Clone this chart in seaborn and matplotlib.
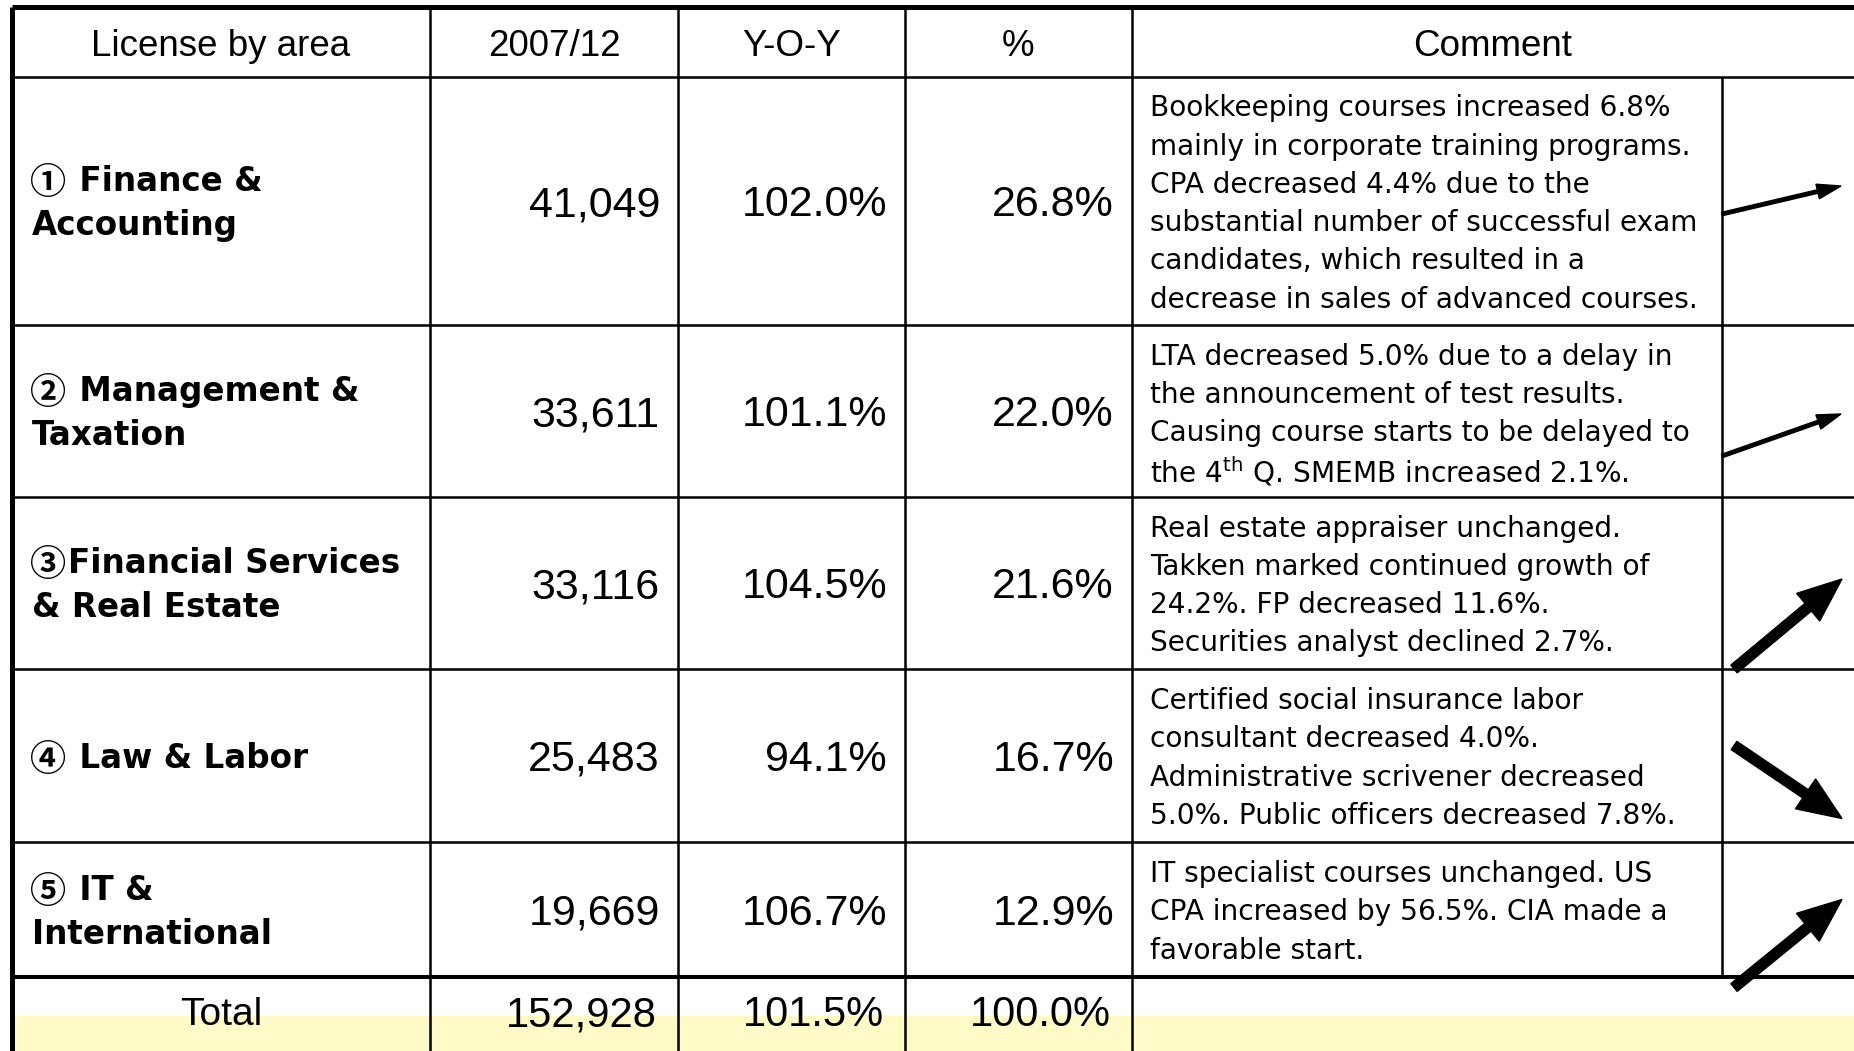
import matplotlib.pyplot as plt
import seaborn as sns

# ---- table data ----
header = ["License by area", "2007/12", "Y-O-Y", "%", "Comment"]
marks = ["①", "②", "③", "④", "⑤"]
areas = [
    [" Finance &", "Accounting"],
    [" Management &", "Taxation"],
    ["Financial Services", "& Real Estate"],
    [" Law & Labor"],
    [" IT &", "International"],
]
students = [41049, 33611, 33116, 25483, 19669]
yoy = [102.0, 101.1, 104.5, 94.1, 106.7]
share = [26.8, 22.0, 21.6, 16.7, 12.9]
total_label = "Total"
total_students = 152928
total_yoy = 101.5
total_share = 100.0
comments = [
    ["Bookkeeping courses increased 6.8%",
     "mainly in corporate training programs.",
     "CPA decreased 4.4% due to the",
     "substantial number of successful exam",
     "candidates, which resulted in a",
     "decrease in sales of advanced courses."],
    ["LTA decreased 5.0% due to a delay in",
     "the announcement of test results.",
     "Causing course starts to be delayed to",
     r"the 4$^{\mathrm{th}}$ Q. SMEMB increased 2.1%."],
    ["Real estate appraiser unchanged.",
     "Takken marked continued growth of",
     "24.2%. FP decreased 11.6%.",
     "Securities analyst declined 2.7%."],
    ["Certified social insurance labor",
     "consultant decreased 4.0%.",
     "Administrative scrivener decreased",
     "5.0%. Public officers decreased 7.8%."],
    ["IT specialist courses unchanged. US",
     "CPA increased by 56.5%. CIA made a",
     "favorable start."],
]
trend = ["slight", "slight", "strong", "strong", "strong"]

# ---- layout (pixels) ----
W, H = 1854, 1051
col_x = [12, 430, 678, 905, 1132, 1722]
row_y = [7, 77, 325, 497, 669, 842, 977]
band_top = 1016
# arrow tail/head y offsets relative to row middle
arrow_dy = [(13, -15), (45, 3), (86, -4), (-10, 63), (78, -10)]

sns.set_theme(style="white")
narrow = ["Liberation Sans Narrow", "Liberation Sans", "DejaVu Sans"]
plain = ["DejaVu Sans", "Noto Sans CJK JP"]
cjk = ["Noto Sans CJK JP", "DejaVu Sans"]

fig = plt.figure(figsize=(W / 100, H / 100), dpi=100)
ax = fig.add_axes([0, 0, 1, 1])
ax.set_xlim(0, W)
ax.set_ylim(H, 0)
ax.axis("off")

# yellow band under the total row
ax.axhspan(band_top, H, xmin=col_x[0] / W, xmax=1, color="#FFFAC8", zorder=0)

# grid lines
thin, thick = 1.8, 3.6
ax.hlines(row_y[0], col_x[0], W, color="black", lw=thick)
ax.hlines(row_y[1:6], col_x[0], W, color="black", lw=thin)
ax.hlines(row_y[6], col_x[0], W, color="black", lw=2.9)
ax.vlines(col_x[0], row_y[0], H, color="black", lw=thick)
ax.vlines(col_x[1:5], row_y[0], H, color="black", lw=thin)
ax.vlines(col_x[5], row_y[1], row_y[6], color="black", lw=thin)

# header
hy = (row_y[0] + row_y[1]) / 2
centers = [(col_x[i] + col_x[i + 1]) / 2 for i in range(4)] + [(col_x[4] + W) / 2]
for cx, h in zip(centers, header):
    ax.text(cx, hy, h, ha="center", va="center_baseline",
            fontsize=26.5, family=narrow, color="black")

pad = 18
num_size = 31
for i in range(5):
    top, bot = row_y[i + 1], row_y[i + 2]
    mid = (top + bot) / 2
    # area label: circled number + bold name
    lab = areas[i]
    for j, line in enumerate(lab):
        base = mid + (j - (len(lab) - 1) / 2) * 44 + 12
        x = 32
        if j == 0:
            ax.text(30, base + 3, marks[i], ha="left", va="baseline",
                    fontsize=26, fontweight="bold", family=cjk, color="black")
            x = 68
        ax.text(x, base, line, ha="left", va="baseline",
                fontsize=23.5, fontweight="bold", family=plain, color="black")
    ax.text(col_x[2] - pad, mid, f"{students[i]:,}", ha="right",
            va="center_baseline", fontsize=num_size, family=narrow, color="black")
    ax.text(col_x[3] - pad, mid, f"{yoy[i]:.1f}%", ha="right",
            va="center_baseline", fontsize=num_size, family=narrow, color="black")
    ax.text(col_x[4] - pad, mid, f"{share[i]:.1f}%", ha="right",
            va="center_baseline", fontsize=num_size, family=narrow, color="black")
    com = comments[i]
    for j, line in enumerate(com):
        y = mid + (j - (len(com) - 1) / 2) * 38.3
        ax.text(1150, y, line, ha="left", va="center_baseline",
                fontsize=20.2, family=plain, color="black")
    # trend arrow
    d0, d1 = arrow_dy[i]
    if trend[i] == "slight":
        x0 = col_x[5]
        ax.arrow(x0, mid + d0, 1841 - x0, d1 - d0, width=3.5, head_width=15,
                 head_length=24, length_includes_head=True, color="black", zorder=3)
    else:
        x0 = 1734
        ax.arrow(x0, mid + d0, 1842 - x0, d1 - d0, width=10, head_width=36,
                 head_length=44, length_includes_head=True, color="black", zorder=3)

# total row
ty = 1011
ax.text(centers[0], ty, total_label, ha="center", va="center_baseline",
        fontsize=28, family=narrow, color="black")
ax.text(col_x[2] - pad - 3, ty, f"{total_students:,}", ha="right",
        va="center_baseline", fontsize=30, family=narrow, color="black")
ax.text(col_x[3] - pad - 3, ty, f"{total_yoy:.1f}%", ha="right",
        va="center_baseline", fontsize=30, family=narrow, color="black")
ax.text(col_x[4] - pad - 3, ty, f"{total_share:.1f}%", ha="right",
        va="center_baseline", fontsize=30, family=narrow, color="black")

fig.savefig("out.png", dpi=100)
